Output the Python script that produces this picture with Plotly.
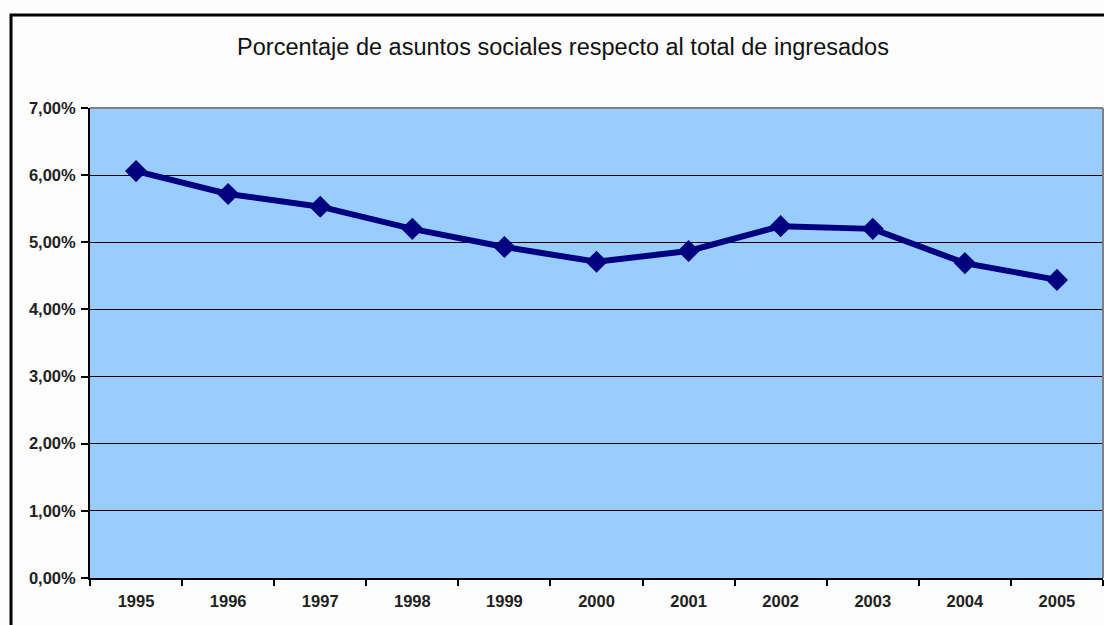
import plotly.graph_objects as go

# Share of social-affairs cases over total cases filed, by year (percent)
years = ["1995", "1996", "1997", "1998", "1999", "2000",
         "2001", "2002", "2003", "2004", "2005"]
share_pct = [6.06, 5.72, 5.53, 5.20, 4.93, 4.71, 4.87, 5.24, 5.20, 4.69, 4.44]

y_tick_vals = [0, 1, 2, 3, 4, 5, 6, 7]
y_tick_text = ["0,00%", "1,00%", "2,00%", "3,00%", "4,00%", "5,00%", "6,00%", "7,00%"]

title_text = "Porcentaje de asuntos sociales respecto al total de ingresados"

W, H = 1104, 625
ML, MR, MT, MB = 90, 1, 108, 47

fig = go.Figure()
fig.add_trace(go.Scatter(
    x=years, y=share_pct, mode="lines+markers",
    line=dict(color="#000080", width=6),
    marker=dict(symbol="diamond", size=17, color="#000080"),
    showlegend=False,
))

pw = W - ML - MR
ph = H - MT - MB

def px_x(v):
    return (v - ML) / pw

def px_y(v):
    return (H - MB - v) / ph

shapes = [
    # outer chart frame
    dict(type="rect", xref="paper", yref="paper",
         x0=px_x(11), x1=px_x(1110), y0=px_y(632), y1=px_y(15),
         line=dict(color="#000000", width=3), layer="below"),
    # plot-area border (top and right)
    dict(type="line", xref="paper", yref="paper",
         x0=0, x1=1, y0=1, y1=1, line=dict(color="#808080", width=2)),
    dict(type="line", xref="paper", yref="paper",
         x0=1, x1=1, y0=0, y1=1, line=dict(color="#808080", width=2)),
]

fig.update_layout(
    width=W, height=H,
    margin=dict(l=ML, r=MR, t=MT, b=MB),
    paper_bgcolor="#FDFDFD",
    plot_bgcolor="#99CCFF",
    font=dict(family="Liberation Sans, Arial, sans-serif", color="#111111"),
    title=dict(text=title_text, x=563 / W, xanchor="center",
               y=1 - 47 / H, yanchor="middle",
               font=dict(size=23.5, color="#111111")),
    shapes=shapes,
    xaxis=dict(
        type="category", range=[-0.5, 10.5],
        showgrid=False, showline=True, linecolor="#000000", linewidth=2,
        ticks="outside", tickson="boundaries", ticklen=6, tickcolor="#000000",
        tickwidth=2, ticklabelstandoff=7,
        tickfont=dict(size=16.5, weight="bold", color="#222222"),
        zeroline=False, fixedrange=True,
    ),
    yaxis=dict(
        range=[0, 7], tickvals=y_tick_vals, ticktext=y_tick_text,
        showgrid=True, gridcolor="#000000", gridwidth=1,
        showline=True, linecolor="#000000", linewidth=2,
        ticks="outside", ticklen=7, tickcolor="#000000", tickwidth=2,
        ticklabelstandoff=2,
        tickfont=dict(size=16.5, weight="bold", color="#222222"),
        zeroline=False, fixedrange=True,
    ),
)

fig.write_html("out.html")
